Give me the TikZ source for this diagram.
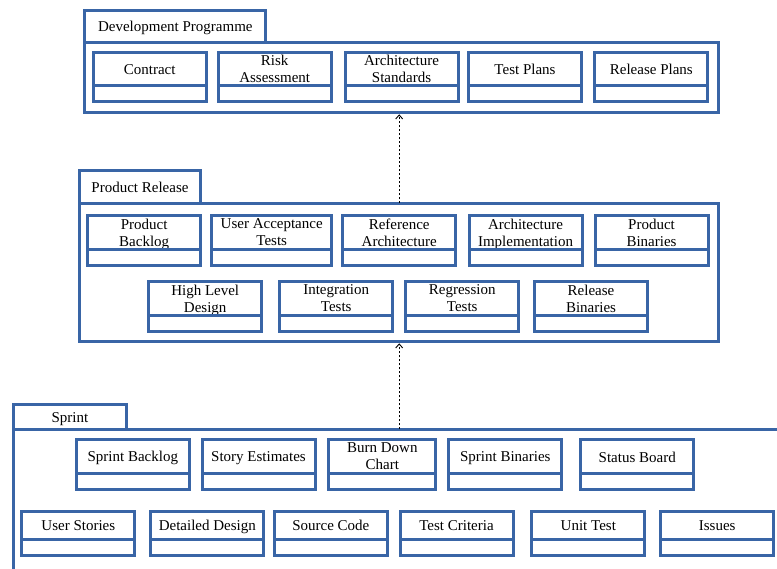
\documentclass[tikz,border=0pt]{standalone}
\usepackage{fontspec}
\setmainfont{Liberation Serif}
\usetikzlibrary{arrows.meta,positioning}
\definecolor{umlblue}{RGB}{57,101,166}
\newcommand{\bxstrut}{\rule[-2.5pt]{0pt}{16pt}}
\begin{document}
\begin{tikzpicture}[
    x=1pt, y=-1pt,
    boxfont/.style={font=\fontsize{15}{17}\selectfont, execute at begin node=\bxstrut, execute at end node=\bxstrut},
    pkgbody/.style={draw=umlblue, line width=3pt, inner sep=0pt, outer sep=0pt},
    pkgtab/.style={draw=umlblue, line width=3pt, inner sep=0pt, outer sep=0pt, boxfont},
    classbox/.style={draw=umlblue, line width=3pt, fill=white, minimum width=113pt, minimum height=33.5pt, inner xsep=1pt, inner ysep=0pt, outer sep=0pt, align=center, boxfont},
    twoline/.style={text depth=-1pt},
    attrbox/.style={draw=umlblue, line width=3pt, fill=white, minimum width=113pt, minimum height=16pt, inner sep=0pt, outer sep=0pt},
    dep/.style={-{Straight Barb[length=4pt,width=7pt]}, line width=0.9pt, dash pattern=on 2pt off 2pt, shorten >=1.5pt}
]
\clip (0,0) rectangle (777,569);

% Development Programme package
\node[pkgbody, minimum width=633.7pt, minimum height=69.8pt] (dev) at (401.65, 77.9) {};
\node[pkgtab, minimum width=181pt, minimum height=32.5pt, anchor=south west] (devtab) at (dev.north west) {Development Programme};

\node[classbox] (contract) at (149.7, 68.95) {Contract};
\node[classbox, twoline] (risk) at (274.7, 68.95) {Risk\\Assessment};
\node[classbox, twoline] (archstd) at (401.5, 68.95) {Architecture\\Standards};
\node[classbox] (testplans) at (525, 68.95) {Test Plans};
\node[classbox] (relplans) at (651.3, 68.95) {Release Plans};
\node[attrbox, below=0pt of contract] (contract-a) {};
\node[attrbox, below=0pt of risk] (risk-a) {};
\node[attrbox, below=0pt of archstd] (archstd-a) {};
\node[attrbox, below=0pt of testplans] (testplans-a) {};
\node[attrbox, below=0pt of relplans] (relplans-a) {};

% Product Release package
\node[pkgbody, minimum width=638.7pt, minimum height=138.6pt] (rel) at (399.15, 272.5) {};
\node[pkgtab, minimum width=120.4pt, minimum height=32.7pt, anchor=south west] (reltab) at (rel.north west) {Product Release};

\node[classbox, twoline] (prodbacklog) at (144.2, 232.3) {Product\\Backlog};
\node[classbox, twoline, minimum width=120pt] (uat) at (271.7, 232.3) {User Acceptance\\Tests};
\node[classbox, twoline] (refarch) at (399.2, 232.3) {Reference\\Architecture};
\node[classbox, twoline] (archimpl) at (525.5, 232.3) {Architecture\\Implementation};
\node[classbox, twoline] (prodbin) at (651.5, 232.3) {Product\\Binaries};
\node[attrbox, below=0pt of prodbacklog] (prodbacklog-a) {};
\node[attrbox, minimum width=120pt, below=0pt of uat] (uat-a) {};
\node[attrbox, below=0pt of refarch] (refarch-a) {};
\node[attrbox, below=0pt of archimpl] (archimpl-a) {};
\node[attrbox, below=0pt of prodbin] (prodbin-a) {};

\node[classbox, twoline] (hld) at (205.2, 298.5) {High Level\\Design};
\node[classbox, twoline] (inttests) at (336.2, 298.5) {Integration\\Tests};
\node[classbox, twoline] (regtests) at (462.2, 298.5) {Regression\\Tests};
\node[classbox, twoline] (relbin) at (591, 298.5) {Release\\Binaries};
\node[attrbox, below=0pt of hld] (hld-a) {};
\node[attrbox, below=0pt of inttests] (inttests-a) {};
\node[attrbox, below=0pt of regtests] (regtests-a) {};
\node[attrbox, below=0pt of relbin] (relbin-a) {};

% Sprint package (runs off the page)
\node[pkgbody, minimum width=786.5pt, minimum height=170.5pt] (sprint) at (406.75, 514.75) {};
\node[pkgtab, minimum width=112.7pt, minimum height=24.7pt, anchor=south west] (sprinttab) at (sprint.north west) {Sprint};

\node[classbox] (sprintbacklog) at (132.8, 456.5) {Sprint Backlog};
\node[classbox] (storyest) at (258.5, 456.5) {Story Estimates};
\node[classbox, twoline, minimum width=107pt] (burndown) at (382.3, 456.5) {Burn Down\\Chart};
\node[classbox] (sprintbin) at (505.3, 456.5) {Sprint Binaries};
\node[classbox] (statusboard) at (637.2, 456.5) {Status Board};
\node[attrbox, below=0pt of sprintbacklog] (sprintbacklog-a) {};
\node[attrbox, below=0pt of storyest] (storyest-a) {};
\node[attrbox, minimum width=107pt, below=0pt of burndown] (burndown-a) {};
\node[attrbox, below=0pt of sprintbin] (sprintbin-a) {};
\node[attrbox, below=0pt of statusboard] (statusboard-a) {};

\node[classbox, minimum height=27.8pt] (userstories) at (78.3, 525.4) {User Stories};
\node[classbox, minimum height=27.8pt] (detdesign) at (207.3, 525.4) {Detailed Design};
\node[classbox, minimum height=27.8pt] (srccode) at (330.8, 525.4) {Source Code};
\node[classbox, minimum height=27.8pt] (testcrit) at (456.5, 525.4) {Test Criteria};
\node[classbox, minimum height=27.8pt] (unittest) at (588.3, 525.4) {Unit Test};
\node[classbox, minimum height=27.8pt] (issues) at (717.2, 525.4) {Issues};
\node[attrbox, below=0pt of userstories] (userstories-a) {};
\node[attrbox, below=0pt of detdesign] (detdesign-a) {};
\node[attrbox, below=0pt of srccode] (srccode-a) {};
\node[attrbox, below=0pt of testcrit] (testcrit-a) {};
\node[attrbox, below=0pt of unittest] (unittest-a) {};
\node[attrbox, below=0pt of issues] (issues-a) {};

% Dependencies
\draw[dep] (rel.north -| refarch) -- (dev.south -| refarch);
\draw[dep] (sprint.north -| refarch) -- (rel.south -| refarch);

\end{tikzpicture}
\end{document}
